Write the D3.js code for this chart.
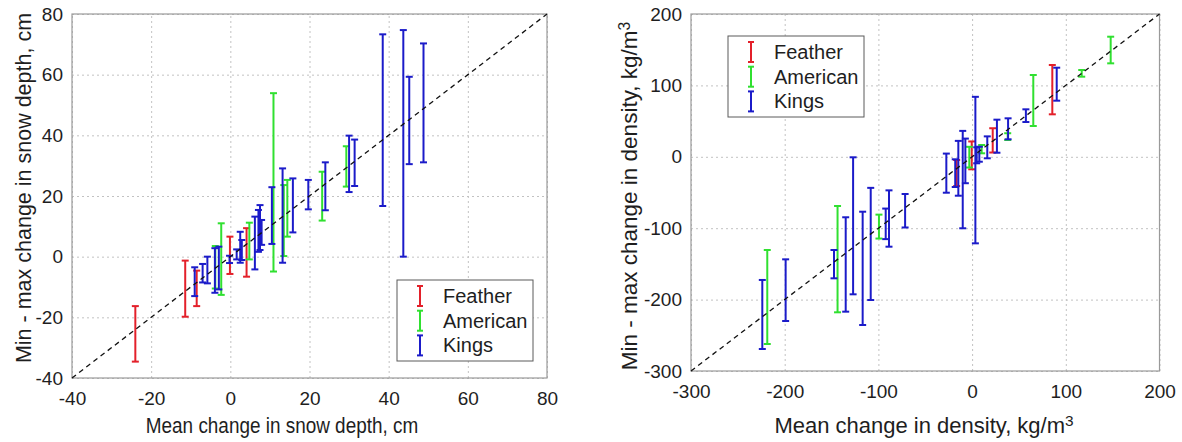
<!DOCTYPE html>
<html>
<head>
<meta charset="utf-8">
<script src="https://cdn.jsdelivr.net/npm/d3@7"></script>
<style>
  body { margin: 0; background: #fff; }
  svg text { font-family: "Liberation Sans", Arial, sans-serif; fill: #1e1e1e; }
</style>
</head>
<body>
<svg id="chart" width="1182" height="442"></svg>
<script>
// Tick values for both panels
const depthTicks = [-40, -20, 0, 20, 40, 60, 80];
const densityTicks = [-300, -200, -100, 0, 100, 200];

// Series names and colours
const seriesNames = ["Feather", "American", "Kings"];
const seriesColors = ["#e3202a", "#30e030", "#1b1bc9"];

// Snow depth change, cm: [mean, min, max]
const depthFeather = [
  [-24, -34.6, -16.3], [-11.4, -19.8, -1.3], [-8.5, -16.3, -4.6],
  [-0.1, -5.7, 6.6], [4.1, -6.6, 9.4]
];
const depthAmerican = [
  [-3.8, -10.5, 3.5], [-2.3, -12.6, 11], [4.8, -0.9, 11.2],
  [10.9, -4.9, 53.9], [13.5, 0.2, 23.6], [14.4, 6.6, 25.3],
  [23.2, 11.9, 28], [29.3, 23.1, 36.4]
];
const depthKings = [
  [-9, -13, -3.5], [-7, -8.5, -2.4], [-5.8, -8.8, 0], [-3.9, -11.9, 2.8],
  [-2.9, -10.8, 3.3], [-0.2, -2.1, 0.3], [1.6, -0.9, 2.4], [2.5, -2, 8.2],
  [2.9, -1.1, 5.5], [6.2, -4.2, 13.2], [7.1, 1.6, 15.4], [7.5, 2.2, 17],
  [7.9, 3.9, 12.1], [10.5, 4.2, 22.9], [13.2, -2, 29.1], [15.8, 8, 25.8],
  [19.7, 15.6, 25.3], [24, 15.3, 31.1], [30, 21.3, 39.9], [31.4, 23.3, 38.6],
  [38.5, 16.7, 73.3], [43.7, 0, 74.7], [45.2, 30.5, 59.3], [48.8, 31.1, 70.3]
];

// Density change, kg/m3: [mean, min, max]
const densityFeather = [
  [-16.5, -41, -4.5], [-0.4, -17.5, 21.5], [22, 6, 40], [85.6, 59.5, 128.6]
];
const densityAmerican = [
  [-218.6, -262.2, -130.5], [-143.6, -217.8, -68.9], [-99.4, -114.5, -81],
  [-3, -15, 14], [10.2, 4.9, 16.5], [38, 23.5, 33], [65.3, 43.1, 114.6],
  [117, 112.2, 121.6], [147.9, 130.9, 168.2]
];
const densityKings = [
  [-223.9, -269.2, -172.5], [-199, -230, -143.6], [-147.4, -170.2, -130.5],
  [-134.9, -216.9, -84.7], [-127, -192.6, -0.7], [-116.8, -235.6, -76.9],
  [-108.2, -200.6, -43.5], [-92.2, -115.3, -72.5], [-88.7, -125.9, -47],
  [-71.5, -99, -52.1], [-27.5, -50.3, 4.5], [-18, -42.3, -3.5],
  [-14.7, -54.5, 22.3], [-10, -100.1, 36.3], [-7.2, -37, 25.5],
  [3.5, -121.2, 84], [4.9, -9.1, 13.3], [7.7, -6.9, 14.1], [16.2, -2.1, 28.6],
  [26.5, 5.7, 52], [38.4, 24.5, 53.9], [57.4, 48.7, 66.5], [90.3, 78.6, 124.8]
];

const svg = d3.select("#chart");
const capHalf = 3.5;

function addLabel(sel, text, sup) {
  sel.text(text);
  if (sup) {
    sel.append("tspan").attr("dy", "-0.45em").attr("font-size", "0.7em").text(sup);
  }
}

function drawPanel(cfg) {
  const g = svg.append("g");
  const x = d3.scaleLinear().domain(cfg.domain).range([cfg.left, cfg.right]);
  const y = d3.scaleLinear().domain(cfg.domain).range([cfg.bottom, cfg.top]);
  const w = cfg.right - cfg.left, h = cfg.bottom - cfg.top;

  // dotted grid
  g.append("g").attr("transform", `translate(0,${cfg.bottom})`)
    .call(d3.axisBottom(x).tickValues(cfg.ticks).tickSize(-h).tickFormat(""))
    .call(a => a.select(".domain").remove())
    .selectAll("line").attr("stroke", "#c2c2c2").attr("stroke-dasharray", "2,3");
  g.append("g").attr("transform", `translate(${cfg.left},0)`)
    .call(d3.axisLeft(y).tickValues(cfg.ticks).tickSize(-w).tickFormat(""))
    .call(a => a.select(".domain").remove())
    .selectAll("line").attr("stroke", "#c2c2c2").attr("stroke-dasharray", "2,3");

  // axes box
  g.append("rect").attr("x", cfg.left).attr("y", cfg.top)
    .attr("width", w).attr("height", h)
    .attr("fill", "none").attr("stroke", "#9a9a9a").attr("stroke-width", 1.2);

  // tick labels
  const xa = g.append("g").attr("transform", `translate(0,${cfg.bottom})`)
    .call(d3.axisBottom(x).tickValues(cfg.ticks).tickSize(0).tickPadding(14).tickFormat(d => String(d)));
  const ya = g.append("g").attr("transform", `translate(${cfg.left},0)`)
    .call(d3.axisLeft(y).tickValues(cfg.ticks).tickSize(0).tickPadding(9).tickFormat(d => String(d)));
  [xa, ya].forEach(a => {
    a.select(".domain").remove();
    a.attr("font-family", null).attr("font-size", 19);
    a.selectAll("text").attr("fill", "#1e1e1e");
  });

  // error bars
  cfg.series.forEach((data, si) => {
    const sg = g.append("g").attr("stroke", seriesColors[si]).attr("stroke-width", 2);
    data.forEach(([m, lo, hi]) => {
      sg.append("line").attr("x1", x(m)).attr("x2", x(m)).attr("y1", y(lo)).attr("y2", y(hi));
      [lo, hi].forEach(v => {
        sg.append("line").attr("x1", x(m) - capHalf).attr("x2", x(m) + capHalf)
          .attr("y1", y(v)).attr("y2", y(v));
      });
    });
  });

  // 1:1 reference line
  g.append("line")
    .attr("x1", x(cfg.domain[0])).attr("y1", y(cfg.domain[0]))
    .attr("x2", x(cfg.domain[1])).attr("y2", y(cfg.domain[1]))
    .attr("stroke", "#111").attr("stroke-width", 1.3).attr("stroke-dasharray", "5,4");

  // legend
  const lg = g.append("g").attr("transform", `translate(${cfg.legend[0]},${cfg.legend[1]})`);
  lg.append("rect").attr("width", 136).attr("height", 81)
    .attr("fill", "#fff").attr("stroke", "#5a5a5a").attr("stroke-width", 1);
  seriesNames.forEach((name, i) => {
    const base = 23 + i * 24.7;
    const cy = base - 7;
    const s = lg.append("g").attr("stroke", seriesColors[i]).attr("stroke-width", 2);
    s.append("line").attr("x1", 23).attr("x2", 23).attr("y1", cy - 10).attr("y2", cy + 10);
    s.append("line").attr("x1", 20).attr("x2", 26).attr("y1", cy - 10).attr("y2", cy - 10);
    s.append("line").attr("x1", 20).attr("x2", 26).attr("y1", cy + 10).attr("y2", cy + 10);
    lg.append("text").attr("x", 46).attr("y", base).attr("font-size", 20).text(name);
  });

  // axis titles
  g.append("text")
    .attr("transform", `translate(${cfg.xTitlePos[0]},${cfg.xTitlePos[1]}) scale(${cfg.xTitleStretch},1)`)
    .attr("text-anchor", "middle").attr("font-size", cfg.xTitleSize)
    .call(addLabel, cfg.xTitle, cfg.unitSup);
  g.append("text")
    .attr("transform", `translate(${cfg.yTitlePos[0]},${cfg.yTitlePos[1]}) rotate(-90)`)
    .attr("text-anchor", "middle").attr("font-size", cfg.yTitleSize)
    .call(addLabel, cfg.yTitle, cfg.unitSup);
}

drawPanel({
  domain: [-40, 80], ticks: depthTicks,
  left: 72, right: 547, top: 14, bottom: 378,
  series: [depthFeather, depthAmerican, depthKings],
  legend: [397, 280],
  xTitle: "Mean change in snow depth, cm", xTitlePos: [282, 433], xTitleSize: 21.5, xTitleStretch: 0.88,
  yTitle: "Min - max change in snow depth, cm", yTitlePos: [31, 188], yTitleSize: 21.5,
  unitSup: null
});

drawPanel({
  domain: [-300, 200], ticks: densityTicks,
  left: 691, right: 1159.5, top: 14, bottom: 371,
  series: [densityFeather, densityAmerican, densityKings],
  legend: [728, 36],
  xTitle: "Mean change in density, kg/m", xTitlePos: [924, 433], xTitleSize: 22, xTitleStretch: 1,
  yTitle: "Min - max change in density, kg/m", yTitlePos: [637, 196], yTitleSize: 22.5,
  unitSup: "3"
});
</script>
</body>
</html>
